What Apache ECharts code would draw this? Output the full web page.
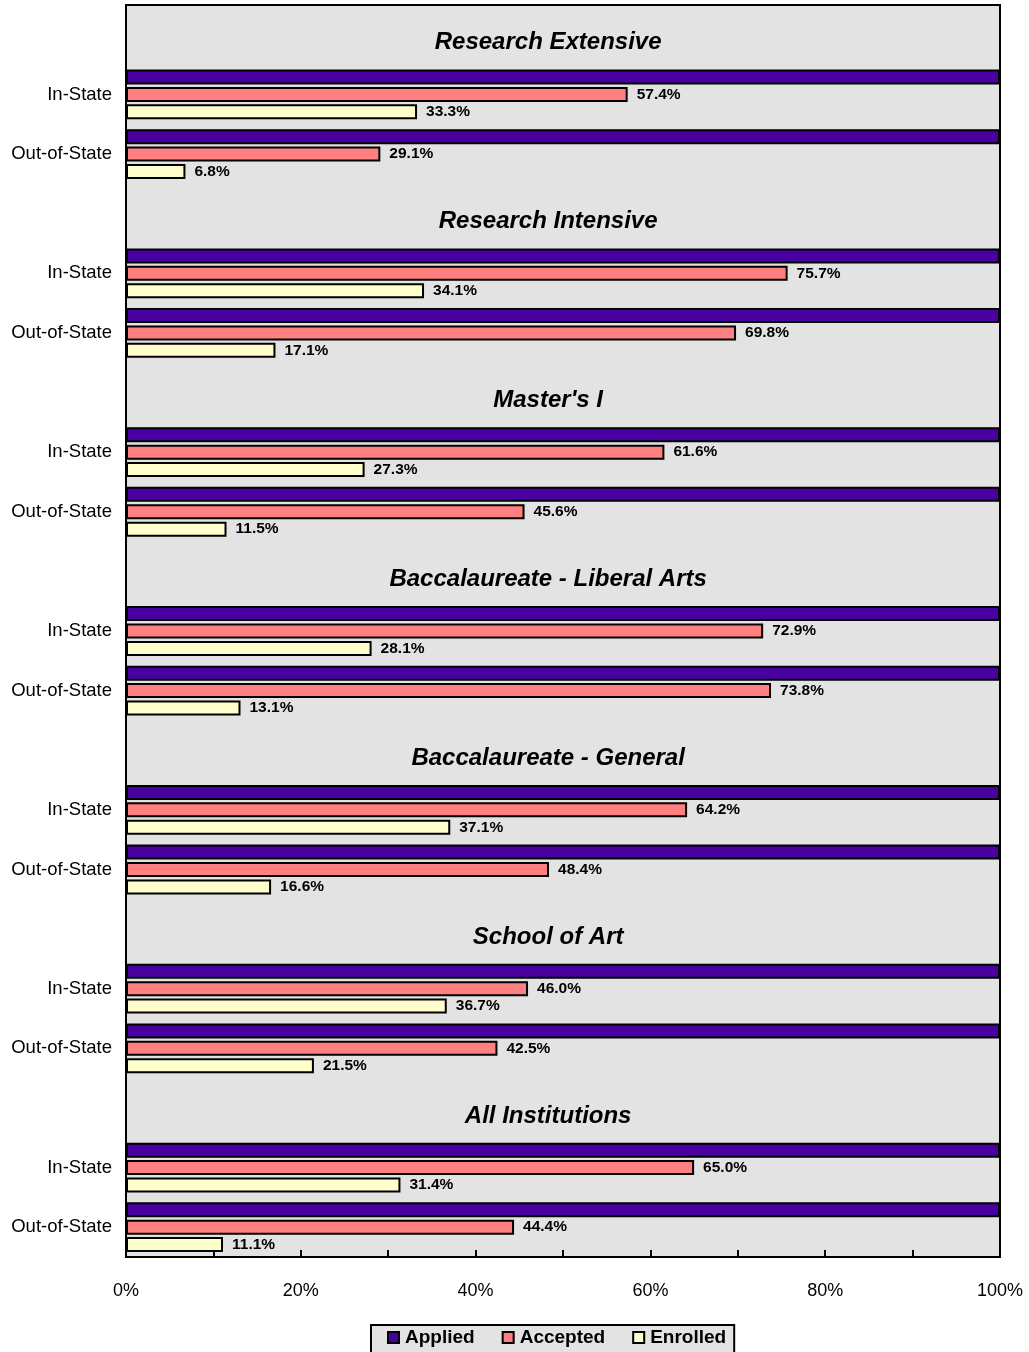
<!DOCTYPE html>
<html><head><meta charset="utf-8">
<script src="https://cdn.jsdelivr.net/npm/echarts@6/dist/echarts.min.js"></script>
<style>html,body{margin:0;padding:0;background:#fff}#c{width:1029px;height:1352px}</style>
</head><body><div id="c"></div>
<script>
const groups = ["Research Extensive","Research Intensive","Master's I","Baccalaureate - Liberal Arts","Baccalaureate - General","School of Art","All Institutions"];
const rowLabels = ["In-State","Out-of-State"];
// per group: [In-State, Out-of-State]
const applied  = [[100,100],[100,100],[100,100],[100,100],[100,100],[100,100],[100,100]];
const accepted = [[57.4,29.1],[75.7,69.8],[61.6,45.6],[72.9,73.8],[64.2,48.4],[46.0,42.5],[65.0,44.4]];
const enrolled = [[33.3,6.8],[34.1,17.1],[27.3,11.5],[28.1,13.1],[37.1,16.6],[36.7,21.5],[31.4,11.1]];
const xTicks = [0,10,20,30,40,50,60,70,80,90,100];

const cats = [], appData = [], accData = [], enrData = [], titleData = [];
groups.forEach((g, i) => {
  const t = cats.length;
  cats.push(''); appData.push('-'); accData.push('-'); enrData.push('-');
  titleData.push({value: [48.3, t], name: g});
  rowLabels.forEach((r, j) => {
    cats.push(r);
    appData.push(applied[i][j]); accData.push(accepted[i][j]); enrData.push(enrolled[i][j]);
  });
});

const FONT = "'Liberation Sans', Arial, sans-serif";
const lbl = {show: true, position: 'right', distance: 9, color: '#000', fontFamily: FONT,
  fontWeight: 'bold', fontSize: 15.5, formatter: p => p.value.toFixed(1) + '%'};
const chart = echarts.init(document.getElementById('c'));
chart.setOption({
  animation: false,
  grid: {left: 126, right: 29, top: 5, bottom: 95, show: true, backgroundColor: '#e3e3e3', borderColor: '#000', borderWidth: 2},
  xAxis: {type: 'value', min: 0, max: 100, interval: 10,
    axisLine: {show: true, lineStyle: {color: '#000', width: 2}},
    axisTick: {show: true, inside: true, length: 7, lineStyle: {color: '#000', width: 2}},
    splitLine: {show: false},
    axisLabel: {margin: 25, fontSize: 18, fontFamily: FONT, color: '#000',
      formatter: v => (xTicks.indexOf(v) % 2 === 0 ? v + '%' : '')}},
  yAxis: {type: 'category', data: cats, inverse: true,
    axisLine: {show: false}, axisTick: {show: false},
    axisLabel: {margin: 14, fontSize: 18.5, fontFamily: FONT, color: '#000', interval: 0, padding: [5, 0, 0, 0]}},
  legend: {top: 1325, left: 371, padding: [3, 8, 6, 16], itemGap: 27, itemWidth: 11, itemHeight: 11,
    borderColor: '#000', borderWidth: 2, backgroundColor: '#e3e3e3',
    textStyle: {fontSize: 19, fontWeight: 'bold', fontFamily: FONT, color: '#000', padding: [0, 0, 0, 1]},
    data: [{name: 'Applied', icon: 'rect'}, {name: 'Accepted', icon: 'rect'}, {name: 'Enrolled', icon: 'rect'}]},
  series: [
    {name: 'Applied', type: 'bar', data: appData, barWidth: 15, barGap: '16%',
      itemStyle: {color: '#4800a0', borderColor: '#000', borderWidth: 2}},
    {name: 'Accepted', type: 'bar', data: accData, barWidth: 15, barGap: '16%',
      itemStyle: {color: '#ff8080', borderColor: '#000', borderWidth: 2}, label: lbl},
    {name: 'Enrolled', type: 'bar', data: enrData, barWidth: 15, barGap: '16%',
      itemStyle: {color: '#ffffcc', borderColor: '#000', borderWidth: 2}, label: lbl},
    {name: 'titles', type: 'scatter', data: titleData, symbolSize: 0, silent: true,
      itemStyle: {opacity: 1}, legendHoverLink: false,
      label: {show: true, position: 'inside', offset: [0, 8], formatter: p => p.name, opacity: 1,
        fontSize: 24, fontWeight: 'bold', fontStyle: 'italic', fontFamily: FONT, color: '#000'}}
  ]
});
</script></body></html>
